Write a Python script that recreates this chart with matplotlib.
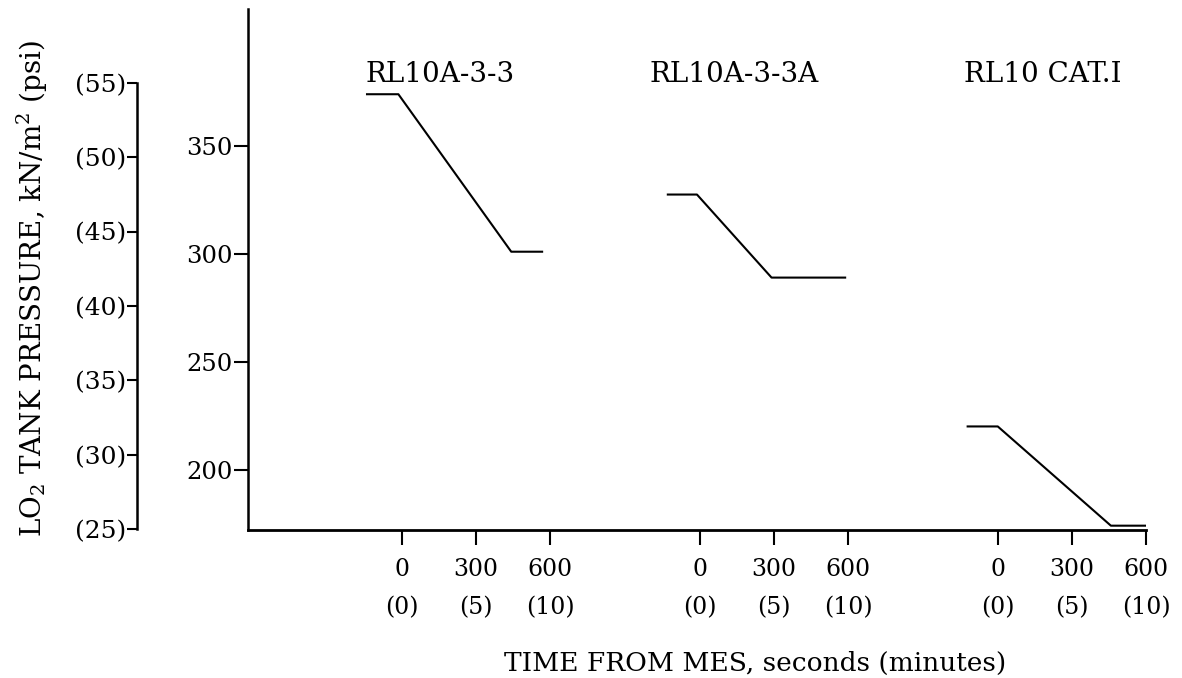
import numpy as np
import matplotlib
matplotlib.use('Agg')
import matplotlib.pyplot as plt
import matplotlib.transforms as mtransforms

plt.rcParams['font.family'] = 'DejaVu Serif'
plt.rcParams['mathtext.fontset'] = 'dejavuserif'

## Data: LO2 tank pressure (kN/m^2) vs time from MES (s), one trace per engine
engines = ['RL10A-3-3', 'RL10A-3-3A', 'RL10 CAT.I']
t_rl10a33 = [-142, -15, 442, 567]
p_rl10a33 = [374, 374, 301, 301]
t_rl10a33a = [-130, -12, 290, 588]
p_rl10a33a = [327.5, 327.5, 289, 289]
t_cat1 = [-122, 0, 458, 600]
p_cat1 = [220, 220, 174, 174]

sec_ticks = [0, 300, 600]
min_labels = ['(0)', '(5)', '(10)']
kpa_ticks = [200, 250, 300, 350]
psi_ticks = [25, 30, 35, 40, 45, 50, 55]

group_gap = 1206  # seconds between the three time scales on the shared axis
KPA_PER_PSI = 6.895

fig = plt.figure(figsize=(11.82, 6.78), dpi=100)
ax = fig.add_axes([0.2098, 0.2183, 0.7597, 0.7684])

times = [t_rl10a33, t_rl10a33a, t_cat1]
press = [p_rl10a33, p_rl10a33a, p_cat1]
for k in range(3):
    ax.plot(np.array(times[k]) + k * group_gap, press[k], color='black', lw=1.5)

ax.set_xlim(-624, 2 * group_gap + 600)
ax.set_ylim(172, 413.5)

# spines
for s in ['top', 'right']:
    ax.spines[s].set_visible(False)
ax.spines['left'].set_linewidth(1.8)
ax.spines['bottom'].set_linewidth(2.0)

# x ticks: seconds with minutes underneath
xt = [k * group_gap + s for k in range(3) for s in sec_ticks]
xl = [str(s) + '\n' + m for k in range(3) for s, m in zip(sec_ticks, min_labels)]
ax.set_xticks(xt)
ax.set_xticklabels(xl, fontsize=17)
for lab in ax.get_xticklabels():
    lab.set_linespacing(1.85)
ax.tick_params(axis='x', direction='out', length=11, width=1.5, pad=9)

# y ticks kN/m^2
ax.set_yticks(kpa_ticks)
ax.set_yticklabels([str(v) for v in kpa_ticks], fontsize=17.5)
ax.tick_params(axis='y', direction='out', length=10, width=1.5, pad=1)

# psi scale, drawn as a separate axis to the left
sec = ax.secondary_yaxis(-0.1236, functions=(lambda p: p / KPA_PER_PSI, lambda p: p * KPA_PER_PSI))
sec.set_yticks(psi_ticks)
sec.set_yticklabels(['(' + str(v) + ')' for v in psi_ticks], fontsize=18)
sec.tick_params(axis='y', direction='out', length=7, width=1.5, pad=1)
sec.spines['left'].set_bounds(25, 55)
sec.spines['left'].set_linewidth(1.8)

# engine titles
trans = mtransforms.blended_transform_factory(ax.transData, ax.transAxes)
title_shift = [-150, -203, -138]
for k in range(3):
    ax.text(k * group_gap + title_shift[k], 0.875, engines[k], transform=trans,
            ha='left', va='center', fontsize=20)

fig.text(755 / 1182, 1 - 663 / 678, 'TIME FROM MES, seconds (minutes)',
         ha='center', va='center', fontsize=19)
fig.text(32 / 1182, 1 - 288 / 678, 'LO$_2$ TANK PRESSURE, kN/m$^2$ (psi)',
         rotation=90, ha='center', va='center', fontsize=20)

fig.savefig('out.png', dpi=100)
